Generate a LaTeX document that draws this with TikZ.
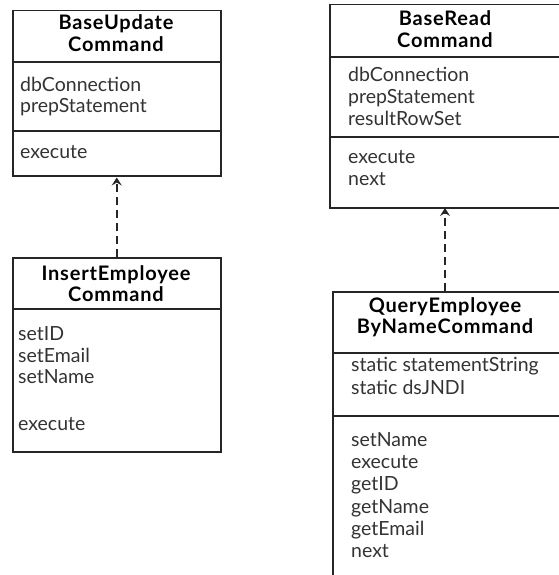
\documentclass[tikz,border=0pt]{standalone}
\usepackage{fontspec}
\setmainfont{Lato}
\usetikzlibrary{arrows.meta}
\begin{document}
\begin{tikzpicture}[x=1pt,y=-1pt,
  box/.style={draw=black!85,line width=1.5pt,inner sep=0pt,anchor=north west},
  sep/.style={draw=black!85,line width=1.5pt},
  ttl/.style={font=\fontsize{20}{22}\selectfont\bfseries\addfontfeature{LetterSpace=4},anchor=base,inner sep=0pt},
  itm/.style={font=\fontsize{19.5}{21}\selectfont,anchor=base west,inner sep=0pt,text=black!80},
  dep/.style={draw=black!85,dash pattern=on 8pt off 5pt,line width=1.5pt,
    -{Stealth[length=8pt,width=10pt,inset=3pt]},shorten >=1pt}]
\useasboundingbox (0,0) rectangle (558,575);
\fill[white] (0,0) rectangle (558,575);

% BaseUpdate Command
\node[box,minimum width=208pt,minimum height=165pt] (bu) at (12,10) {};
\draw[sep] (bu.west |- 0,62) -- (bu.east |- 0,62);
\draw[sep] (bu.west |- 0,131) -- (bu.east |- 0,131);
\node[ttl] (bu1) at (116,30) {BaseUpdate};
\node[ttl] (bu2) at (116,52) {Command};
\node[itm] (bua1) at (20,92) {dbConnection};
\node[itm] (bua2) at (20,113) {prepStatement};
\node[itm] (bum1) at (20,158) {execute};

% InsertEmployee Command
\node[box,minimum width=208pt,minimum height=194pt] (ie) at (12,257) {};
\draw[sep] (ie.west |- 0,309) -- (ie.east |- 0,309);
\node[ttl] (ie1) at (116,280) {InsertEmployee};
\node[ttl] (ie2) at (116,301) {Command};
\node[itm] (iem1) at (18,340) {setID};
\node[itm] (iem2) at (18,362) {setEmail};
\node[itm] (iem3) at (18,383) {setName};
\node[itm] (iem4) at (18,430) {execute};

% BaseRead Command
\node[box,minimum width=236pt,minimum height=203pt] (br) at (329,4) {};
\draw[sep] (br.west |- 0,57) -- (br.east |- 0,57);
\draw[sep] (br.west |- 0,137) -- (br.east |- 0,137);
\node[ttl] (br1) at (445,26) {BaseRead};
\node[ttl] (br2) at (445,48) {Command};
\node[itm] (bra1) at (348,82) {dbConnection};
\node[itm] (bra2) at (348,103) {prepStatement};
\node[itm] (bra3) at (348,125) {resultRowSet};
\node[itm] (brm1) at (348,163) {execute};
\node[itm] (brm2) at (348,185) {next};

% QueryEmployeeByNameCommand
\node[box,minimum width=232pt,minimum height=300pt] (qe) at (332,291) {};
\draw[sep] (qe.west |- 0,353) -- (qe.east |- 0,353);
\draw[sep] (qe.west |- 0,416) -- (qe.east |- 0,416);
\node[ttl] (qe1) at (445,312) {QueryEmployee};
\node[ttl] (qe2) at (445,333) {ByNameCommand};
\node[itm] (qea1) at (351,371) {static statementString};
\node[itm] (qea2) at (351,394) {static dsJNDI};
\node[itm] (qem1) at (351,446) {setName};
\node[itm] (qem2) at (351,468) {execute};
\node[itm] (qem3) at (351,490) {getID};
\node[itm] (qem4) at (351,513) {getName};
\node[itm] (qem5) at (351,535) {getEmail};
\node[itm] (qem6) at (351,557) {next};

% dependencies
\coordinate (brs) at (445,207);
\draw[dep] (qe.north -| brs) -- (brs);
\draw[dep] (ie.north) -- (bu.south);
\end{tikzpicture}
\end{document}
